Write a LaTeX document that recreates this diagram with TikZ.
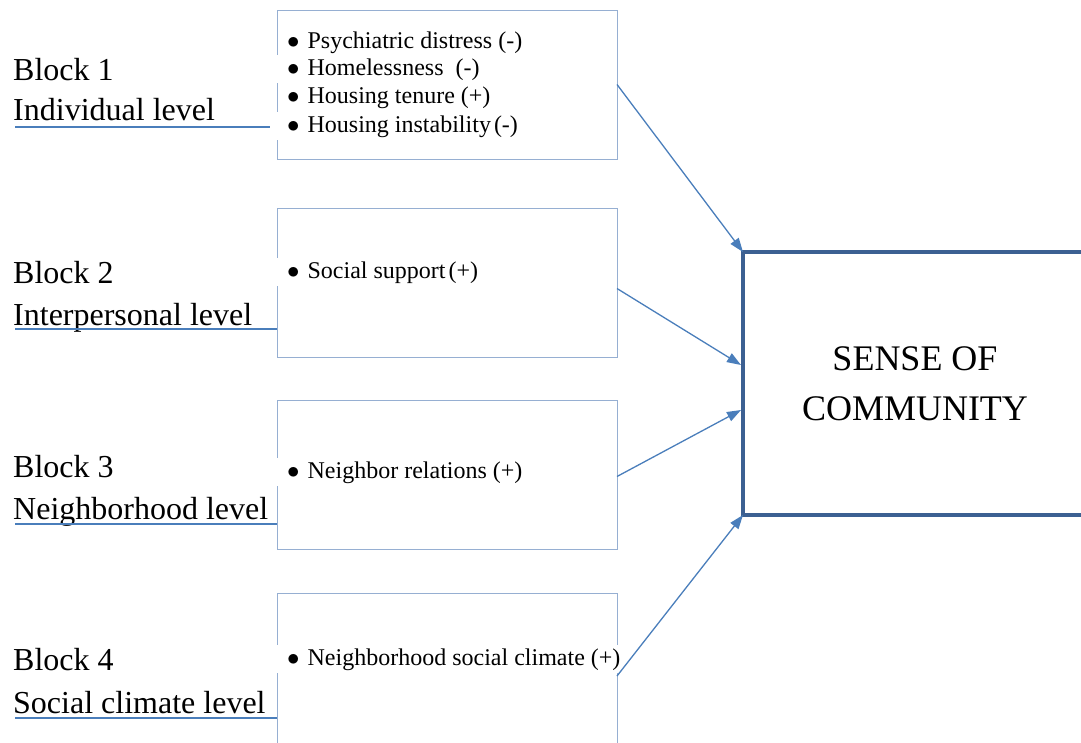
\documentclass[tikz,border=0pt]{standalone}
\usepackage{fontspec}
\setmainfont{Liberation Serif}
\usetikzlibrary{arrows.meta,calc}
\definecolor{arrblue}{RGB}{74,126,187}
\definecolor{edgeblue}{RGB}{150,175,210}
\definecolor{darkblue}{RGB}{60,96,146}
\newcommand{\bul}{$\bullet$\hspace{8pt}}
\begin{document}
\begin{tikzpicture}[x=1pt,y=-1pt,
  lvl/.style={anchor=base west, inner sep=0pt, font=\fontsize{32}{38}\selectfont},
  item/.style={anchor=base west, inner sep=0pt, font=\fontsize{24}{28}\selectfont},
  itemw/.style={item, fill=white, inner ysep=3pt},
  blockbox/.style={draw=edgeblue, line width=1pt, minimum width=340pt, minimum height=149pt, anchor=north west, inner sep=0pt, outer sep=0pt},
  arr/.style={draw=arrblue, line width=1.3pt, -{Triangle[length=14pt,width=10pt]}},
  uline/.style={draw=arrblue, line width=1.5pt}]
\useasboundingbox (0,0) rectangle (1081,742);
\clip (0,0) rectangle (1081,742);
% block boxes
\node[blockbox] (b1) at (277,10) {};
\node[blockbox] (b2) at (277,208) {};
\node[blockbox] (b3) at (277,400) {};
\node[blockbox, minimum height=170pt] (b4) at (277,593) {};
% outcome box
\node[draw=darkblue, line width=4pt, minimum width=344pt, minimum height=263pt, anchor=north west, align=center, font=\fontsize{36}{50}\selectfont, inner sep=0pt, outer sep=0pt] (soc) at (743,252) {SENSE OF\\COMMUNITY};
% items
\node[item] (i11) at (287,48) {\bul Psychiatric distress (-)};
\node[itemw] (i12) at (274,75) {\hspace{13pt}\bul Homelessness\ \ (-)};
\node[item] (i13) at (287,103) {\bul Housing tenure (+)};
\node[itemw] (i14) at (274,132) {\hspace{13pt}\bul Housing instability\hspace{3pt}(-)};
\node[itemw] (i21) at (274,278) {\hspace{13pt}\bul Social support\hspace{3pt}(+)};
\node[itemw] (i31) at (274,478) {\hspace{13pt}\bul Neighbor relations (+)};
\node[itemw] (i41) at (274,665) {\hspace{13pt}\bul Neighborhood social climate (+)};
% level labels
\node[lvl] (l1a) at (13,80) {Block 1};
\node[lvl] (l1b) at (13,120) {Individual level};
\node[lvl] (l2a) at (13,283) {Block 2};
\node[lvl] (l2b) at (13,325) {Interpersonal level};
\node[lvl] (l3a) at (13,477) {Block 3};
\node[lvl] (l3b) at (13,519) {Neighborhood level};
\node[lvl] (l4a) at (13,670) {Block 4};
\node[lvl] (l4b) at (13,713) {Social climate level};
% underlines
\coordinate (u1) at ($(l1b.base west)+(2,7)$);
\coordinate (u2) at ($(l2b.base west)+(2,4)$);
\coordinate (u3) at ($(l3b.base west)+(2,5)$);
\coordinate (u4) at ($(l4b.base west)+(2,5)$);
\draw[uline] (u1) -- ($(u1 -| b1.west)+(-7,0)$);
\draw[uline] (u2) -- (u2 -| b2.west);
\draw[uline] (u3) -- (u3 -| b3.west);
\draw[uline] (u4) -- (u4 -| b4.west);
% arrows
\draw[arr] (b1.east) -- (soc.north west);
\draw[arr] ($(b2.east)+(0,6)$) -- ($(soc.north west)+(-2,113)$);
\draw[arr] ($(b3.east)+(0,2)$) -- ($(soc.north west)+(-2,158)$);
\draw[arr] ($(b4.north east)+(0,83)$) -- (soc.south west);
\end{tikzpicture}
\end{document}
